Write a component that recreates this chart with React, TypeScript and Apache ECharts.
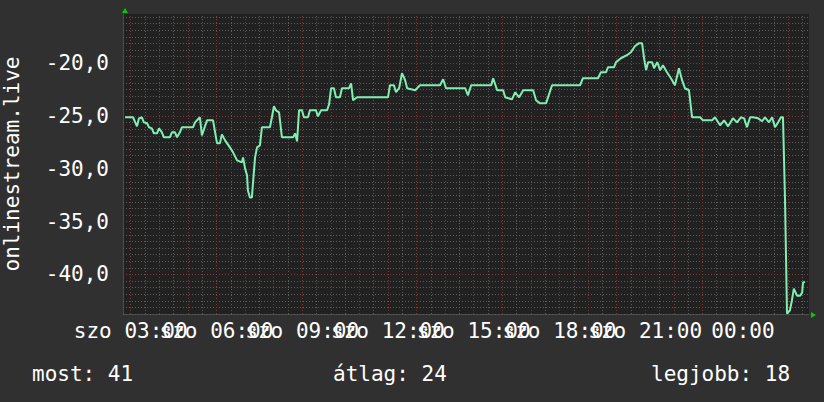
import { useEffect, useRef } from "react";
import * as echarts from "echarts";

// time in hours since Saturday 00:00, value = rank
const HOURS = [
  2.8, 3.08, 3.22, 3.29, 3.39, 3.46, 3.57, 3.64, 3.74, 3.81,
  3.92, 3.99, 4.09, 4.16, 4.37, 4.44, 4.55, 4.62, 4.72, 4.79,
  5.18, 5.25, 5.42, 5.49, 5.67, 5.88, 6.02, 6.12, 6.19, 6.3,
  6.47, 6.58, 6.72, 6.89, 6.93, 7.0, 7.07, 7.1, 7.17, 7.24,
  7.28, 7.35, 7.42, 7.52, 7.59, 7.87, 7.94, 8.01, 8.08, 8.19,
  8.29, 8.68, 8.75, 8.82, 8.89, 8.99, 9.06, 9.2, 9.27, 9.48,
  9.55, 9.66, 9.87, 9.94, 10.01, 10.11, 10.18, 10.32, 10.39, 10.64,
  10.71, 10.78, 10.92, 12.0, 12.07, 12.21, 12.28, 12.39, 12.49, 12.6,
  12.67, 12.95, 13.12, 13.82, 13.93, 14.03, 14.7, 14.8, 14.91, 15.61,
  15.68, 15.82, 16.03, 16.1, 16.34, 16.45, 16.59, 16.73, 17.08, 17.18,
  17.32, 17.53, 17.6, 17.74, 18.72, 18.82, 19.35, 19.45, 19.63, 19.7,
  19.91, 19.98, 20.15, 20.36, 20.5, 20.64, 20.78, 20.89, 20.96, 21.03,
  21.1, 21.24, 21.31, 21.42, 21.52, 21.62, 21.76, 21.9, 22.04, 22.18,
  22.29, 22.39, 22.53, 22.64, 22.92, 23.02, 23.34, 23.44, 23.62, 23.76,
  23.9, 24.07, 24.21, 24.35, 24.46, 24.56, 24.67, 24.77, 24.95, 25.09,
  25.19, 25.33, 25.44, 25.54, 25.65, 25.75, 25.82, 25.89, 25.96, 26.06,
  26.13, 26.2, 26.31, 26.42, 26.49, 26.52, 26.59,
];

const RANKS = [
  -25.12, -25.12, -25.98, -25.22, -25.12, -25.6, -25.69, -26.07, -26.17, -26.64,
  -26.64, -26.17, -26.55, -27.02, -27.02, -26.55, -26.55, -27.02, -26.55, -26.07,
  -26.07, -25.6, -25.12, -26.83, -25.41, -25.41, -27.59, -27.59, -26.74, -27.31,
  -27.97, -28.44, -29.2, -29.39, -28.92, -29.96, -30.63, -32.05, -32.71, -32.71,
  -31.29, -28.92, -27.97, -27.78, -26.07, -26.07, -25.12, -24.08, -24.46, -24.65,
  -27.02, -27.02, -26.64, -27.4, -24.46, -24.46, -25.12, -25.12, -24.46, -24.46,
  -25.03, -24.46, -24.46, -23.89, -22.37, -22.37, -23.23, -23.23, -22.37, -22.37,
  -21.9, -23.51, -23.23, -23.23, -22.09, -22.09, -22.75, -22.37, -20.95, -21.61,
  -22.37, -22.56, -22.09, -22.09, -21.52, -22.37, -22.37, -23.04, -22.09, -22.09,
  -21.42, -22.56, -22.56, -23.23, -23.42, -22.75, -23.23, -22.56, -22.56, -23.51,
  -23.8, -23.8, -23.23, -22.09, -22.09, -21.42, -21.42, -20.85, -20.85, -20.38,
  -20.38, -19.9, -19.53, -19.24, -18.96, -18.39, -18.1, -18.1, -19.53, -20.66,
  -19.9, -19.9, -20.47, -19.9, -20.66, -20.19, -20.85, -21.42, -22.09, -20.47,
  -21.61, -22.37, -22.56, -25.12, -25.12, -25.41, -25.41, -25.12, -25.88, -25.41,
  -25.98, -25.22, -25.6, -25.12, -25.22, -26.07, -25.12, -25.12, -25.22, -25.5,
  -25.12, -25.6, -25.12, -26.07, -25.6, -25.12, -25.12, -32.81, -43.7, -43.43,
  -42.49, -41.35, -42.01, -42.01, -41.73, -40.78, -40.69,
];

const X_MIN = 2.73;
const X_MAX = 26.73;
const Y_MIN = -43.75;
const Y_MAX = -15.34;

const X_TICK_HOURS = [3, 6, 9, 12, 15, 18, 21, 24];
const X_TICK_LABELS = [
  "szo 03:00", "szo 06:00", "szo 09:00", "szo 12:00",
  "szo 15:00", "szo 18:00", "szo 21:00", "00:00",
];
const Y_TICK_VALUES = [-40, -35, -30, -25, -20];
const Y_TICK_LABELS = ["-40,0", "-35,0", "-30,0", "-25,0", "-20,0"];

const Y_AXIS_TITLE = "onlinestream.live";
const STAT_NAMES = ["most", "átlag", "legjobb"];
const STAT_VALUES = [41, 24, 18];

// grid line positions
const MAJOR_X: number[] = [];
const MINOR_X: number[] = [];
for (let h = 3; h <= 26; h++) MAJOR_X.push(h);
for (let h = 3.5; h < X_MAX; h += 1) MINOR_X.push(h);
const MAJOR_Y = [-40, -35, -30, -25, -20];
const MINOR_Y: number[] = [];
for (let k = 0; Y_MIN + k * 0.625 < Y_MAX; k++) {
  const v = Y_MIN + k * 0.625;
  if (!MAJOR_Y.some((m) => Math.abs(m - v) < 1e-6)) MINOR_Y.push(v);
}

const FONT = '"DejaVu Sans Mono", monospace';
const TEXT = "#ffffff";
const MINOR_COLOR = "#5c5c5c";
const MAJOR_COLOR = "#7e3636";
const LINE_COLOR = "#80efb4";
const ARROW = "#00cc00";

export default function App() {
  const ref = useRef<HTMLDivElement>(null);
  useEffect(() => {
    if (!ref.current) return;
    const chart = echarts.init(ref.current, null, { renderer: "svg" });
    const dotted = (color: string) => ({ color, width: 1, type: [1, 2] as any });
    const gridLines = [
      ...MINOR_X.map((h) => ({ xAxis: h, lineStyle: dotted(MINOR_COLOR) })),
      ...MINOR_Y.map((v) => ({ yAxis: v, lineStyle: dotted(MINOR_COLOR) })),
      ...MAJOR_X.map((h) => ({ xAxis: h, lineStyle: dotted(MAJOR_COLOR) })),
      ...MAJOR_Y.map((v) => ({ yAxis: v, lineStyle: dotted(MAJOR_COLOR) })),
    ];
    chart.setOption({
      animation: false,
      backgroundColor: "#303030",
      grid: {
        left: 123,
        right: 15,
        top: 14,
        bottom: 88,
        show: true,
        backgroundColor: "#212121",
        borderWidth: 0,
        containLabel: false,
        outerBoundsMode: "none",
      },
      xAxis: {
        type: "value",
        min: X_MIN,
        max: X_MAX,
        axisLine: { show: true, lineStyle: { color: "#4a4a4a", width: 1 } },
        axisTick: { show: false },
        splitLine: { show: false },
        axisLabel: {
          // empty edge entries keep ECharts' min/max overlap check off the real labels
          customValues: [X_MIN, ...X_TICK_HOURS, X_MAX],
          hideOverlap: false,
          margin: 6,
          color: TEXT,
          fontSize: 21,
          fontFamily: FONT,
          formatter: (v: number) => {
            const i = X_TICK_HOURS.findIndex((t) => Math.abs(t - v) < 1e-6);
            if (i < 0) return "";
            if (i === X_TICK_HOURS.length - 1) return "{s|" + X_TICK_LABELS[i] + "}";
            return X_TICK_LABELS[i];
          },
          rich: {
            s: { color: TEXT, fontSize: 21, fontFamily: FONT, padding: [0, 0, 0, 24] },
          },
        },
      },
      yAxis: {
        type: "value",
        min: Y_MIN,
        max: Y_MAX,
        interval: 1.25,
        axisLine: { show: true, lineStyle: { color: "#4a4a4a", width: 1 } },
        axisTick: { show: false },
        splitLine: { show: false },
        axisLabel: {
          margin: 14,
          color: TEXT,
          fontSize: 21,
          fontFamily: FONT,
          hideOverlap: false,
          formatter: (v: number) => {
            const i = Y_TICK_VALUES.findIndex((t) => Math.abs(t - v) < 1e-6);
            return i >= 0 ? Y_TICK_LABELS[i] : "";
          },
        },
      },
      series: [
        {
          type: "line",
          data: HOURS.map((h, i) => [h, RANKS[i]]),
          showSymbol: false,
          z: 10,
          lineStyle: { color: LINE_COLOR, width: 2 },
          itemStyle: { color: LINE_COLOR },
          markLine: {
            silent: true,
            z: 1,
            symbol: ["none", "none"],
            label: { show: false },
            emphasis: { disabled: true },
            animation: false,
            data: gridLines,
          },
        },
      ],
      graphic: [
        {
          type: "text",
          x: 12,
          y: 164,
          rotation: Math.PI / 2,
          style: {
            text: Y_AXIS_TITLE,
            fill: TEXT,
            font: `21px ${FONT}`,
            align: "center",
            verticalAlign: "middle",
          },
        },
        {
          type: "text",
          x: 32,
          y: 374,
          style: {
            text: `${STAT_NAMES[0]}: ${STAT_VALUES[0]}`,
            fill: TEXT,
            font: `21px ${FONT}`,
            align: "left",
            verticalAlign: "middle",
          },
        },
        {
          type: "text",
          x: 333,
          y: 374,
          style: {
            text: `${STAT_NAMES[1]}: ${STAT_VALUES[1]}`,
            fill: TEXT,
            font: `21px ${FONT}`,
            align: "left",
            verticalAlign: "middle",
          },
        },
        {
          type: "text",
          x: 651,
          y: 374,
          style: {
            text: `${STAT_NAMES[2]}: ${STAT_VALUES[2]}`,
            fill: TEXT,
            font: `21px ${FONT}`,
            align: "left",
            verticalAlign: "middle",
          },
        },
        {
          type: "polygon",
          shape: { points: [[122, 13], [128, 13], [125, 8]] },
          style: { fill: ARROW },
        },
        {
          type: "polygon",
          shape: { points: [[811, 312], [811, 318], [816, 315]] },
          style: { fill: ARROW },
        },
      ],
    });
    return () => chart.dispose();
  }, []);
  return (
    <div
      ref={ref}
      style={{ position: "absolute", left: 0, top: 0, width: 824, height: 402 }}
    />
  );
}
